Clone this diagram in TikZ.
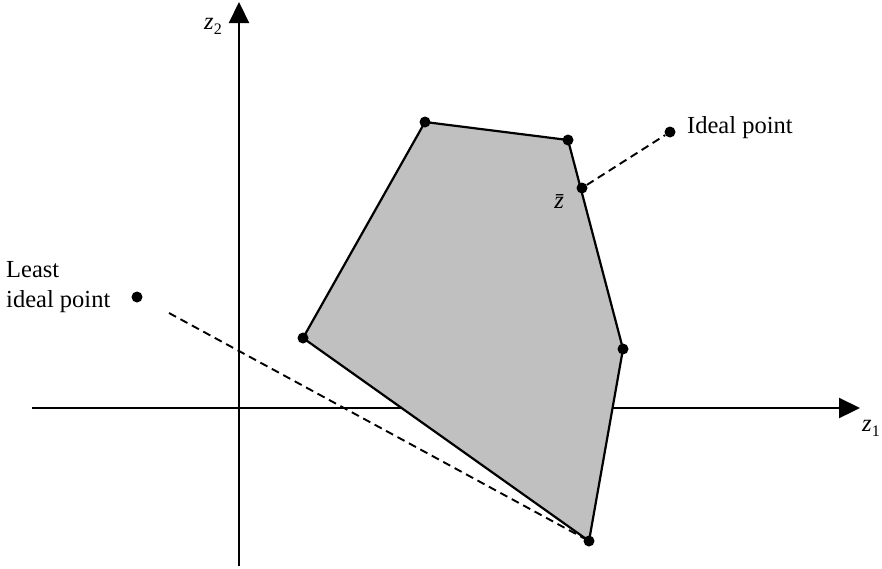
\documentclass[tikz,border=0pt]{standalone}
\usepackage{fontspec}
\setmainfont{Liberation Serif}
\usetikzlibrary{arrows.meta}
\begin{document}
\begin{tikzpicture}[x=1pt,y=-1pt,
  ln/.style={line width=2.2pt},
  dashln/.style={line width=1.9pt, dash pattern=on 8pt off 5pt},
  dotpt/.style={circle, fill=black, inner sep=0pt, minimum size=11pt},
  lbl/.style={font=\fontsize{24.5}{30}\selectfont, inner sep=0pt},
  axarrow/.style={ln, -{Triangle[length=21pt,width=20pt]}}]
\useasboundingbox (0,0) rectangle (882,568);
% axes
\coordinate (xs) at (32,408);
\coordinate (xe) at (860,408);
\coordinate (ys) at (239,566);
\coordinate (ye) at (239,2);
\draw[axarrow] (xs) -- (xe);
\draw[axarrow] (ys) -- (ye);
% polygon
\coordinate (p1) at (425,122);
\coordinate (p2) at (568,140);
\coordinate (p3) at (623,349);
\coordinate (p4) at (589,541);
\coordinate (p5) at (303,338);
\coordinate (zb) at (582,188);
\filldraw[ln, fill={rgb,255:red,192;green,192;blue,192}, line join=round] (p1) -- (p2) -- (p3) -- (p4) -- (p5) -- cycle;
% ideal point
\node[dotpt] (ideal) at (670,132) {};
\node[dotpt] (zbar) at (zb) {};
\draw[dashln] (zbar) -- (ideal);
\node[lbl, anchor=base west] (idl) at (687,133) {Ideal point};
% least ideal point
\node[dotpt] (least) at (137,297) {};
\coordinate (ds) at (169,313);
\draw[dashln] (ds) -- (p4);
\node[lbl, anchor=base west] (lst) at (6,277) {Least};
\node[lbl, anchor=base west] (lst2) at (6,307) {ideal point};
% vertex dots
\foreach \p in {p1,p2,p3,p4,p5} \node[dotpt] at (\p) {};
% labels
\node[lbl] (z2) at (213,26) {\textit{z}\raisebox{-5pt}{\fontsize{16}{18}\selectfont 2}};
\node[lbl] (z1) at (871,428) {\textit{z}\raisebox{-5pt}{\fontsize{16}{18}\selectfont 1}};
\node[lbl] (zl) at (562,202) {\textit{\=z}};
\end{tikzpicture}
\end{document}
